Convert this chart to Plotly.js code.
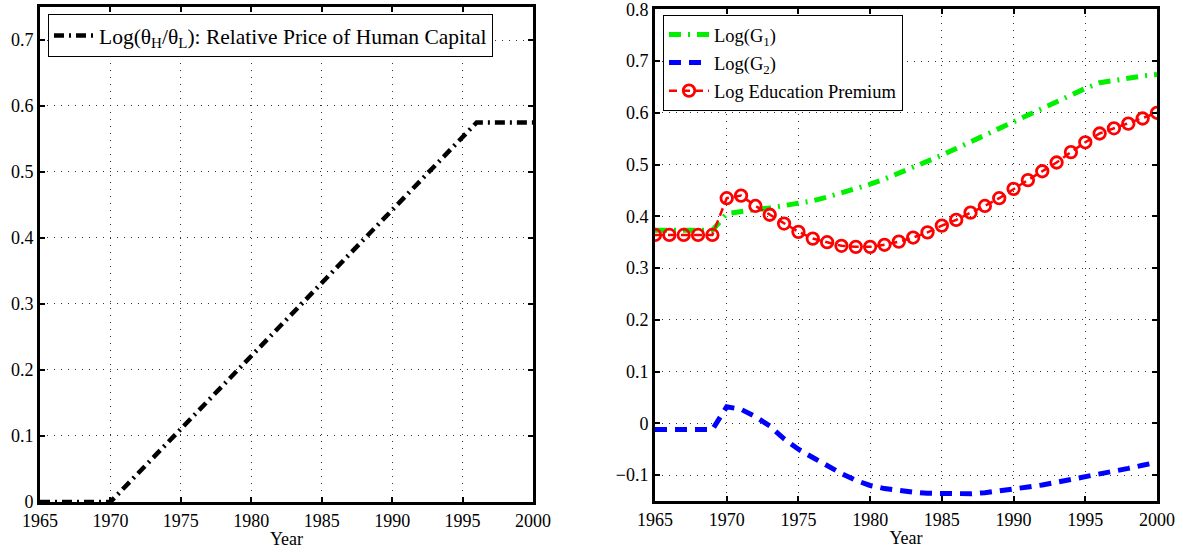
<!DOCTYPE html>
<html>
<head>
<meta charset="utf-8">
<script src="https://cdn.plot.ly/plotly-3.0.1.min.js"></script>
<style>html,body{margin:0;padding:0;background:#fff}#chart{width:1188px;height:550px}</style>
</head>
<body>
<div id="chart"></div>
<script>
// ---- data ----
const hcYears = [1965, 1970, 1996, 2000];
const hcValues = [0, 0, 0.575, 0.575];

const years = [1965,1966,1967,1968,1969,1970,1971,1972,1973,1974,1975,1976,1977,1978,1979,1980,1981,1982,1983,1984,1985,1986,1987,1988,1989,1990,1991,1992,1993,1994,1995,1996,1997,1998,1999,2000];

const logG1 = [0.373,0.373,0.373,0.373,0.373,0.405,0.41,0.413,0.416,0.42,0.425,0.43,0.437,0.445,0.453,0.462,0.472,0.483,0.494,0.506,0.518,0.531,0.544,0.557,0.57,0.583,0.596,0.609,0.622,0.635,0.647,0.658,0.663,0.667,0.671,0.674];

const logG2 = [-0.012,-0.012,-0.012,-0.012,-0.012,0.032,0.027,0.013,-0.005,-0.03,-0.05,-0.066,-0.082,-0.097,-0.11,-0.12,-0.126,-0.13,-0.133,-0.135,-0.136,-0.137,-0.136,-0.134,-0.131,-0.127,-0.123,-0.119,-0.114,-0.108,-0.103,-0.097,-0.092,-0.087,-0.081,-0.075];

const logPremium = [0.364,0.364,0.364,0.364,0.364,0.435,0.44,0.42,0.403,0.386,0.37,0.357,0.35,0.343,0.341,0.341,0.345,0.351,0.359,0.369,0.382,0.393,0.407,0.42,0.435,0.453,0.47,0.487,0.504,0.524,0.543,0.56,0.57,0.579,0.589,0.6];

const xTicks = [1965,1970,1975,1980,1985,1990,1995,2000];
const yTicksLeft = [0,0.1,0.2,0.3,0.4,0.5,0.6,0.7];
const yTicksRight = [-0.1,0,0.1,0.2,0.3,0.4,0.5,0.6,0.7,0.8];

const labels = {
  hc: 'Log(θ<sub>H</sub>/θ<sub>L</sub>): Relative Price of Human Capital',
  g1: 'Log(G<sub>1</sub>)',
  g2: 'Log(G<sub>2</sub>)',
  prem: 'Log Education Premium',
  x: 'Year'
};

// ---- chart ----
const FONT = 'Liberation Serif, Times New Roman, serif';

const traces = [
  {x: hcYears, y: hcValues, type: 'scatter', mode: 'lines', name: labels.hc,
   xaxis: 'x', yaxis: 'y', legend: 'legend',
   line: {color: '#000000', width: 4.5, dash: '10px,5px,2px,5px'}},
  {x: years, y: logG1, type: 'scatter', mode: 'lines', name: labels.g1,
   xaxis: 'x2', yaxis: 'y2', legend: 'legend2', legendgroup: 'g1',
   line: {color: '#00f000', width: 5, dash: '12px,7px,2px,7px'}},
  {x: years, y: logG2, type: 'scatter', mode: 'lines', name: labels.g2,
   xaxis: 'x2', yaxis: 'y2', legend: 'legend2', legendgroup: 'g2',
   line: {color: '#0000ff', width: 5, dash: '12px,8px'}},
  {x: years, y: logPremium, type: 'scatter', mode: 'lines+markers', name: labels.prem,
   xaxis: 'x2', yaxis: 'y2', legend: 'legend2', legendgroup: 'prem',
   line: {color: '#ff0000', width: 2.5, dash: '8px,5px'},
   marker: {symbol: 'circle-open', size: 11.5, color: '#ff0000', line: {width: 2.8, color: '#ff0000'}}}
];

function xAxis(domain, anchor) {
  return {
    domain: domain, anchor: anchor, range: [1964.999, 2000.001],
    tickvals: xTicks, ticktext: xTicks.map(String),
    showline: true, linecolor: '#000', linewidth: 3, mirror: 'ticks',
    ticks: 'inside', ticklen: 5, tickwidth: 2, tickcolor: '#000',
    showgrid: true, gridcolor: '#333', gridwidth: 1, griddash: '1px,6px',
    zeroline: false, automargin: false, ticklabeloverflow: 'allow',
    tickfont: {family: FONT, size: 18, color: '#000'},
    title: {text: labels.x, font: {family: FONT, size: 18, color: '#000'}, standoff: 3}
  };
}
function yAxis(domain, anchor, range, ticks) {
  return {
    domain: domain, anchor: anchor, range: range,
    tickvals: ticks,
    showline: true, linecolor: '#000', linewidth: 3, mirror: 'ticks',
    ticks: 'inside', ticklen: 5, tickwidth: 2, tickcolor: '#000',
    showgrid: true, gridcolor: '#333', gridwidth: 1, griddash: '1px,6px',
    zeroline: false, automargin: false, ticklabeloverflow: 'allow',
    tickfont: {family: FONT, size: 18, color: '#000'}
  };
}

const layout = {
  width: 1188, height: 550,
  margin: {l: 0, r: 0, t: 0, b: 0},
  paper_bgcolor: '#fff', plot_bgcolor: '#fff',
  font: {family: FONT, color: '#000'},
  xaxis: xAxis([40/1188, 533/1188], 'y'),
  yaxis: yAxis([1 - 502/550, 1 - 7/550], 'x', [-0.0001, 0.75], yTicksLeft),
  xaxis2: xAxis([655/1188, 1157/1188], 'y2'),
  yaxis2: yAxis([1 - 501/550, 1 - 9/550], 'x2', [-0.15, 0.8005], yTicksRight),
  legend: {x: 48/1188, y: 1 - 14/550, xanchor: 'left', yanchor: 'top',
           bgcolor: '#fff', bordercolor: '#000', borderwidth: 1, itemwidth: 40,
           font: {family: FONT, size: 21.5, color: '#000'}},
  legend2: {x: 663/1188, y: 1 - 15/550, xanchor: 'left', yanchor: 'top',
            bgcolor: '#fff', bordercolor: '#000', borderwidth: 1, itemwidth: 40,
            traceorder: 'grouped', tracegroupgap: 1,
            font: {family: FONT, size: 18.5, color: '#000'}},
  showlegend: true
};

Plotly.newPlot('chart', traces, layout, {staticPlot: true, displayModeBar: false});
</script>
</body>
</html>
